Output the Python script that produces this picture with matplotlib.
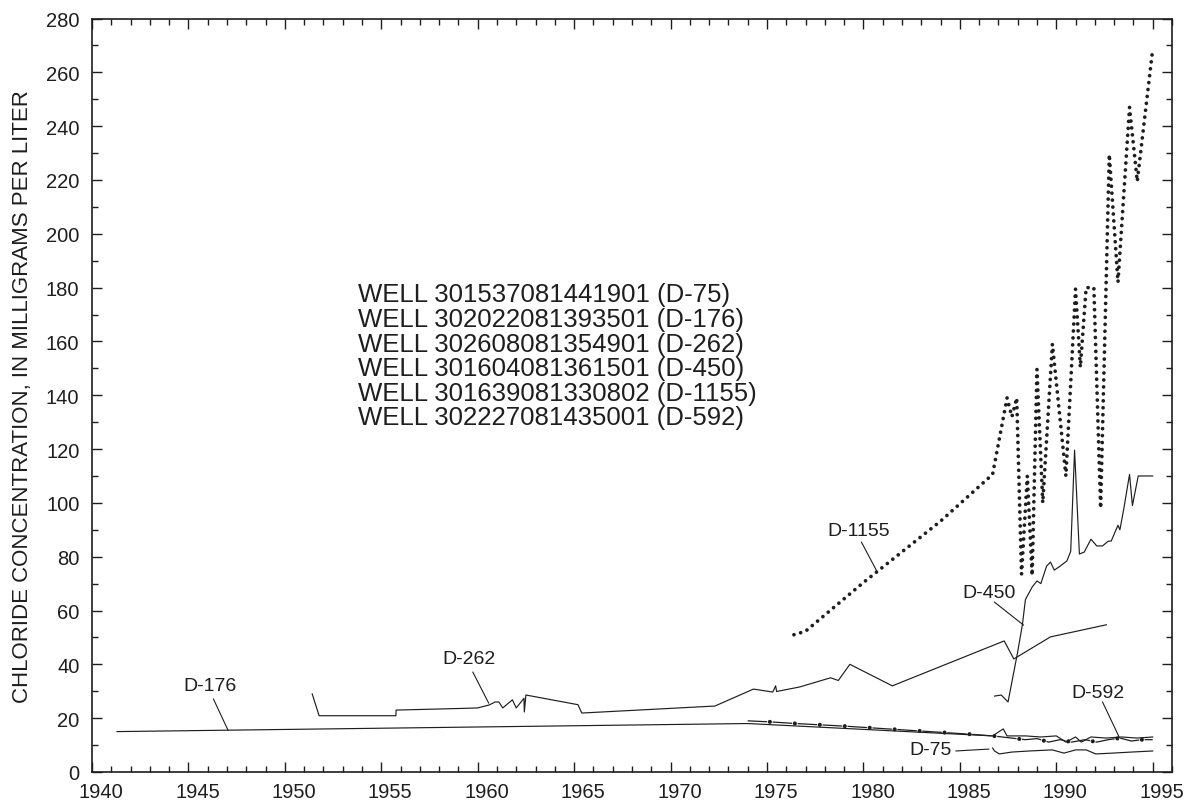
import numpy as np
import matplotlib
matplotlib.use("Agg")
import matplotlib.pyplot as plt
from matplotlib.ticker import MultipleLocator
from matplotlib.transforms import ScaledTranslation

plt.rcParams['font.family'] = ['Liberation Sans', 'DejaVu Sans']
plt.rcParams['lines.scale_dashes'] = False

# chloride samples, (decimal year, mg/L)
d176_yr = [1941.3, 1974.0, 1986.7, 1987.25, 1987.45, 1988.4, 1989.2, 1990.0,
           1990.5, 1991.0, 1991.3, 1991.8, 1992.6, 1993.4, 1994.2, 1995.0]
d176_cl = [15.0, 18.0, 13.4, 16.0, 13.4, 13.4, 13.0, 13.4,
           11.1, 13.0, 11.1, 13.0, 12.6, 13.0, 12.6, 13.0]

d262_yr = [1951.42, 1951.78, 1955.76, 1955.77, 1959.1, 1960.0, 1960.6, 1960.9,
           1961.1, 1961.3, 1961.8, 1962.0, 1962.4, 1962.42, 1962.5, 1965.2,
           1965.4, 1972.3, 1974.3, 1975.3, 1975.45, 1975.5, 1976.7, 1978.3,
           1978.7, 1979.3, 1981.5, 1987.3, 1987.8, 1989.7, 1992.6]
d262_cl = [29.0, 20.9, 20.9, 23.0, 23.6, 23.8, 24.9, 26.0,
           26.0, 23.8, 26.8, 23.8, 27.4, 22.3, 28.6, 25.0,
           21.9, 24.5, 30.8, 29.7, 32.0, 29.9, 31.6, 35.0,
           34.0, 40.0, 32.0, 48.7, 42.0, 50.2, 54.7]

d450_yr = [1986.8, 1987.15, 1987.5, 1988.0, 1988.25, 1988.4, 1988.5, 1988.75,
           1989.0, 1989.2, 1989.5, 1989.7, 1989.9, 1990.2, 1990.55, 1990.75,
           1990.95, 1991.2, 1991.45, 1991.8, 1992.1, 1992.4, 1992.7, 1992.85,
           1993.2, 1993.3, 1993.5, 1993.8, 1993.95, 1994.25, 1995.0]
d450_cl = [28.2, 28.6, 26.0, 44.6, 55.0, 64.0, 65.4, 68.7,
           71.0, 70.0, 76.5, 78.0, 75.0, 76.5, 78.4, 82.0,
           119.6, 81.0, 81.7, 86.5, 84.0, 84.0, 85.8, 85.8,
           91.7, 90.0, 97.7, 110.6, 99.0, 110.0, 110.0]

d1155_yr = [1976.4, 1977.0, 1980.0, 1982.3, 1984.0, 1986.7, 1987.45, 1987.7,
            1987.95, 1988.2, 1988.5, 1988.75, 1989.0, 1989.3, 1989.8, 1990.5,
            1991.0, 1991.25, 1991.55, 1991.95, 1992.3, 1992.75, 1993.2, 1993.8,
            1994.2, 1995.0]
d1155_cl = [51.0, 52.3, 70.4, 83.5, 93.2, 110.6, 139.0, 132.0,
            139.0, 73.5, 110.0, 73.0, 149.6, 100.0, 159.0, 110.0,
            179.4, 150.4, 180.0, 180.0, 98.0, 229.5, 182.0, 247.0,
            219.5, 268.5]

d592_yr = [1974.0, 1975.2, 1976.5, 1977.8, 1979.1, 1980.4, 1981.7, 1983.0,
           1984.3, 1985.6, 1986.7, 1987.2, 1988.4, 1989.0, 1989.6, 1990.2,
           1990.8, 1991.5, 1992.1, 1992.7, 1993.3, 1993.9, 1994.45, 1995.0]
d592_cl = [19.0, 18.6, 18.0, 17.5, 17.0, 16.4, 15.8, 15.2,
           14.6, 14.0, 13.4, 13.0, 12.0, 12.4, 11.1, 12.0,
           11.1, 12.0, 11.1, 12.0, 12.6, 11.5, 12.0, 12.0]

d75_yr = [1986.7, 1986.8, 1987.05, 1987.7, 1988.6, 1989.8, 1990.4, 1991.0,
          1991.55, 1992.05, 1992.9, 1993.9, 1995.0]
d75_cl = [8.9, 7.8, 6.7, 7.4, 7.8, 8.2, 7.0, 8.2,
          8.2, 6.7, 7.0, 7.4, 7.8]

# label text position, leader start, leader end
labels = [
    ("D-176", (1946.1, 32.3), (1946.3, 27.1), (1947.05, 15.6)),
    ("D-262", (1959.55, 42.0), (1959.75, 37.1), (1960.57, 25.6)),
    ("D-1155", (1979.75, 89.9), (1979.9, 85.4), (1980.7, 74.6)),
    ("D-450", (1986.5, 66.8), (1986.8, 63.1), (1988.3, 54.6)),
    ("D-592", (1992.15, 29.7), (1992.4, 26.0), (1993.26, 13.0)),
    ("D-75", (1983.5, 8.2), (1984.8, 7.8), (1986.5, 8.5)),
]

wells = [
    "WELL 301537081441901 (D-75)",
    "WELL 302022081393501 (D-176)",
    "WELL 302608081354901 (D-262)",
    "WELL 301604081361501 (D-450)",
    "WELL 301639081330802 (D-1155)",
    "WELL 302227081435001 (D-592)",
]

ink = "#1e1e1e"

fig = plt.figure(figsize=(11.85, 8.04), dpi=100)
ax = fig.add_axes([0.0776, 0.0386, 0.9114, 0.9371])

thin = dict(color=ink, lw=0.85)
ax.plot(d176_yr, d176_cl, **thin)
ax.plot(d262_yr, d262_cl, **thin)
ax.plot(d450_yr, d450_cl, **thin)
ax.plot(d75_yr, d75_cl, **thin)

# D-1155: dotted trace
ax.plot(d1155_yr, d1155_cl, color=ink, lw=2.7, linestyle=(0, (0.01, 5.0)),
        dash_capstyle='round', solid_capstyle='round')

# D-592: long dash with heavy dot
ax.plot(d592_yr, d592_cl, color=ink, lw=0.9, linestyle=(0, (14, 4)))
ax.plot(d592_yr, d592_cl, color=ink, lw=3.0, linestyle=(2, (0.01, 17.99)),
        dash_capstyle='round')

for name, txt, p0, p1 in labels:
    ax.text(txt[0], txt[1], name, fontsize=14, ha='center', va='center', color=ink)
    ax.plot([p0[0], p1[0]], [p0[1], p1[1]], color=ink, lw=0.8)

for i, w in enumerate(wells):
    ax.text(1953.78, 177.5 - i * 9.15, w, fontsize=18.5, ha='left', va='center', color=ink)

ax.set_xlim(1940, 1996)
ax.set_ylim(0, 280)
ax.xaxis.set_major_locator(MultipleLocator(5))
ax.xaxis.set_minor_locator(MultipleLocator(1))
ax.yaxis.set_major_locator(MultipleLocator(20))
ax.yaxis.set_minor_locator(MultipleLocator(10))
ax.tick_params(which='both', direction='in', top=True, right=True, width=1.0,
               color=ink, labelsize=14.5, labelcolor=ink)
ax.tick_params(which='major', length=7.5, pad=9)
ax.tick_params(which='minor', length=4.5)
ax.tick_params(axis='x', labeltop=False, pad=7)
for s in ax.spines.values():
    s.set_linewidth(1.2)
    s.set_color(ink)

shift = ScaledTranslation(0.09, 0, fig.dpi_scale_trans)
for lab in ax.get_xticklabels():
    lab.set_transform(lab.get_transform() + shift)

ax.set_ylabel("CHLORIDE CONCENTRATION, IN MILLIGRAMS PER LITER", fontsize=16,
              color=ink, labelpad=9)

fig.savefig("out.png", dpi=100)
